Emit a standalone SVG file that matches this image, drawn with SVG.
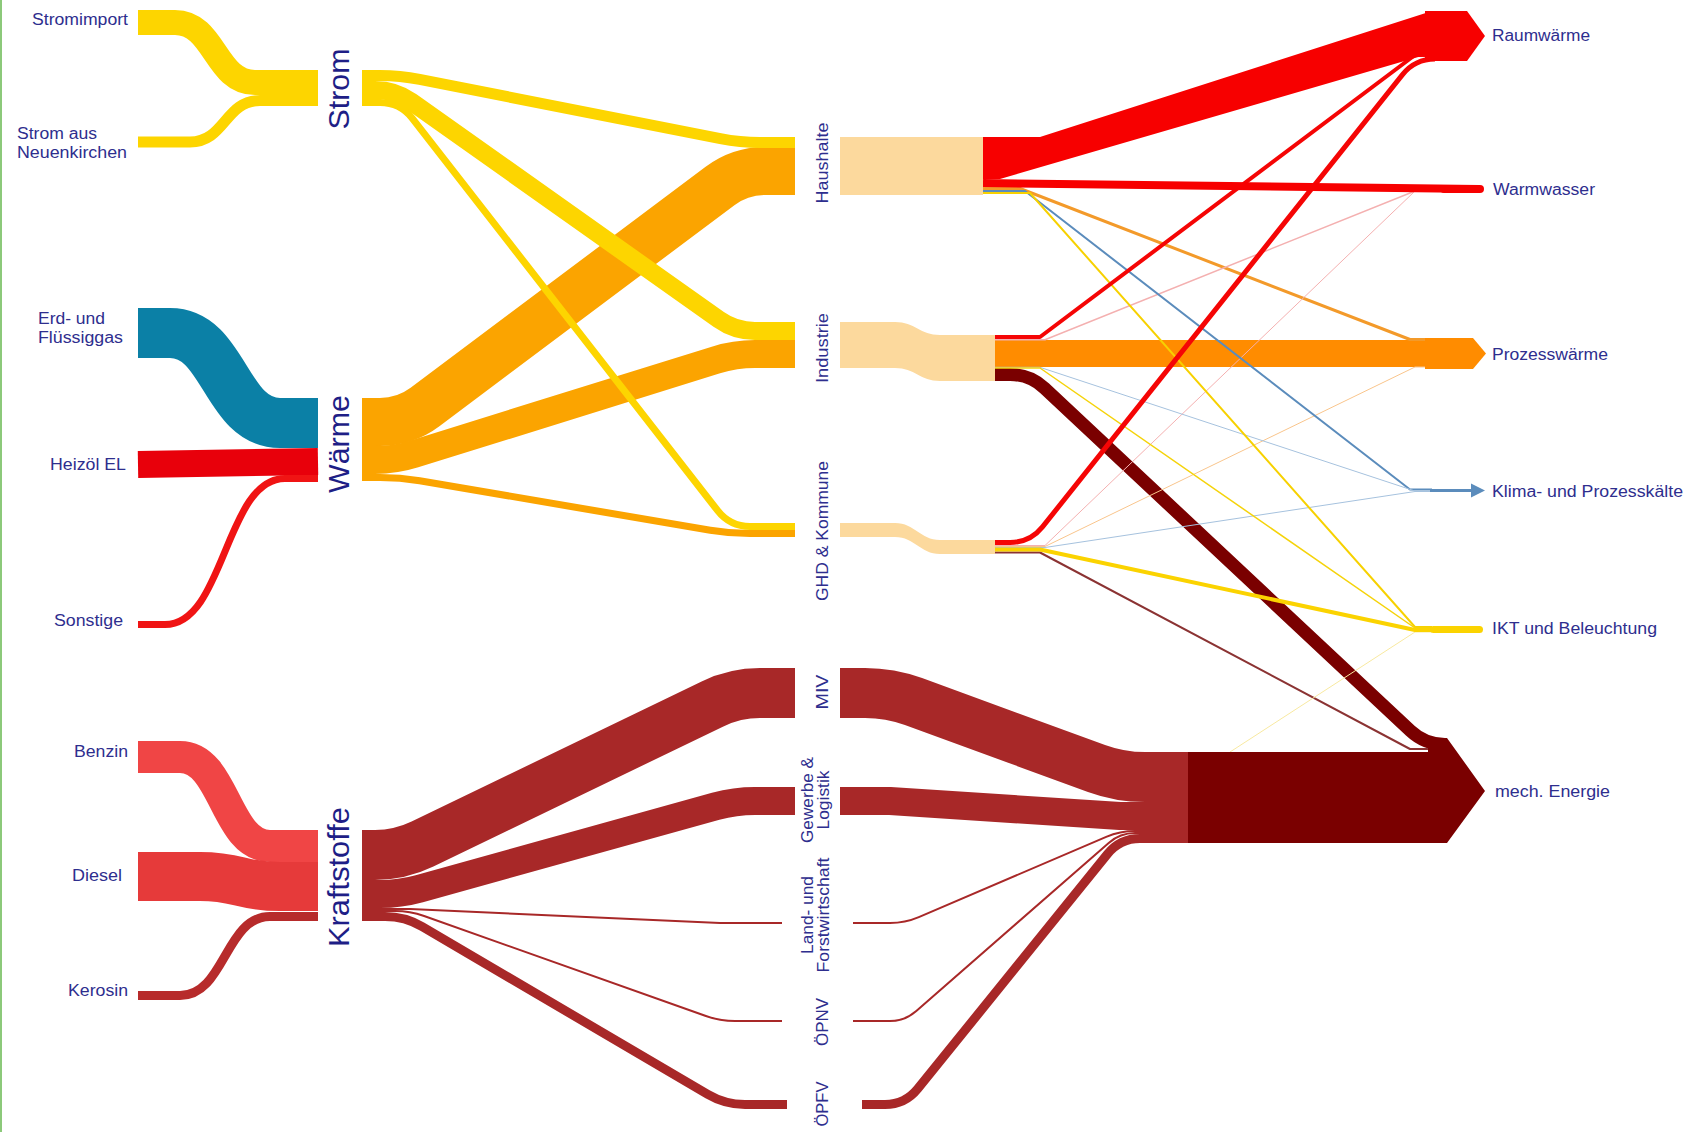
<svg xmlns="http://www.w3.org/2000/svg" width="1693" height="1132" viewBox="0 0 1693 1132">
<style>
text{font-family:"Liberation Sans",Arial,sans-serif;fill:#2e2e8e}
.s{font-size:16px}
.m{font-size:17px;text-anchor:middle}
.b{font-size:30px;text-anchor:middle;fill:#1e1e86}
.lk{fill:none;stroke-linejoin:round}
.st{stroke:#fdd500}
.wa{stroke:#fba400}
.kr{stroke:#a82828}
.rd{stroke:#f50505}
.box{fill:#fcd99d}
</style>
<rect width="1693" height="1132" fill="#ffffff"/>
<rect x="0" y="0" width="2" height="1132" fill="#8cc97a"/>

<g id="connectors">
  <!-- sources to carriers -->
  <path class="lk st" stroke-width="25" d="M138,22.5 H175 C215,22.5 215,82.5 255,82.5 H318"/>
  <path class="lk st" stroke-width="11" d="M138,142 H190 C225,142 225,100.5 260,100.5 H318"/>
  <path class="lk" stroke="#0b80a6" stroke-width="50" d="M138,333 H170 C225,333 225,423 280,423 H318"/>
  <path class="lk" stroke="#e8000b" stroke-width="27" d="M138,464.5 L318,461.5"/>
  <path class="lk" stroke="#f01414" stroke-width="7" d="M138,624.5 H165 C225,624.5 225,478.5 285,478.5 H318"/>
  <path class="lk" stroke="#f04545" stroke-width="32" d="M138,757 H180 C225,757 225,846 270,846 H318"/>
  <path class="lk" stroke="#e63a3a" stroke-width="49" d="M138,876.5 H200 C240,876.5 240,886.5 280,886.5 H318"/>
  <path class="lk" stroke="#b72b2b" stroke-width="9" d="M138,995.5 H180 C225,995.5 225,916.5 270,916.5 H318"/>

  <!-- Waerme to sectors -->
  <path class="lk wa" stroke-width="48" d="M362,422 H380 Q405,422 425,407 L720,186 Q740,171 765,171 H795"/>
  <path class="lk wa" stroke-width="28" d="M362,460 H375 Q395,460 414.1,454 L715.9,360 Q735,354 755,354 H795"/>
  <path class="lk wa" stroke-width="7" d="M362,477.5 H380 Q400,477.5 419.7,480.8 L710.3,530.2 Q730,533.5 750,533.5 H795"/>
  <!-- Strom to sectors -->
  <path class="lk st" stroke-width="11" d="M362,75.5 H380 Q400,75.5 419.6,79.4 L720.4,138.6 Q740,142.5 760,142.5 H795"/>
  <path class="lk st" stroke-width="18" d="M362,90 H375 Q395,90 411.3,101.6 L718.7,319.4 Q735,331 755,331 H795"/>
  <path class="lk st" stroke-width="7" d="M362,102.5 H380 Q400,102.5 412.3,118.3 L717.7,510.7 Q730,526.5 750,526.5 H795"/>

  <!-- Kraftstoffe to traffic sectors -->
  <path class="lk kr" stroke-width="50" d="M362,855 H375 Q400,855 422.5,844.1 L712.5,703.9 Q735,693 760,693 H795"/>
  <path class="lk kr" stroke-width="28" d="M362,894 H380 Q400,894 419.3,888.7 L715.7,806.3 Q735,801 755,801 H795"/>
  <path class="lk kr" stroke-width="2" d="M362,909 H410 L720,923 H782"/>
  <path class="lk kr" stroke-width="2" d="M362,911 H395 Q410,911 424.1,916 L705.9,1016 Q720,1021 735,1021 H782"/>
  <path class="lk kr" stroke-width="9" d="M362,916.5 H385 Q405,916.5 422.2,926.6 L707.8,1094.4 Q725,1104.5 745,1104.5 H787"/>

  <!-- traffic sectors to mech. Energie -->
  <path class="lk kr" stroke-width="50" d="M840,693 H865 Q890,693 913.5,701.6 L1096.5,768.4 Q1120,777 1145,777 H1190"/>
  <path class="lk kr" stroke-width="28" d="M840,801 H890 L1120,816 H1190"/>
  <path class="lk kr" stroke-width="2" d="M853,923 H890 Q905,923 918.8,917.1 L1106.2,836.9 Q1120,831 1135,831 H1190"/>
  <path class="lk kr" stroke-width="2" d="M853,1021 H890 Q905,1021 916.3,1011.1 L1108.7,842.9 Q1120,833 1135,833 H1190"/>
  <path class="lk kr" stroke-width="9" d="M862,1104.5 H885 Q905,1104.5 917.6,1088.9 L1107.4,854.1 Q1120,838.5 1140,838.5 H1190"/>

  <!-- sectors to uses -->
  <path class="lk" stroke="#7a0000" stroke-width="13" d="M995,374.5 H1010 Q1030,374.5 1044.6,388.2 L1410.4,730.8 Q1425,744.5 1445,744.5"/>
  <path class="lk" stroke="#8b3333" stroke-width="2" d="M995,552.5 H1040 L1410,749 H1430"/>
  <path class="lk" stroke="#ff8c00" stroke-width="27" d="M995,353.5 H1432"/>
  <path class="lk" stroke="#f39a2a" stroke-width="3" d="M983,188.5 H1020 L1410,339.5 H1432"/>
  <path class="lk" stroke="#f9c58c" stroke-width="1" d="M995,546.5 H1045 L1415,367 H1432"/>
  <path class="lk" stroke="#f4b0b0" stroke-width="1.5" d="M995,339.7 H1045 L1415,191 H1432"/>
  <path class="lk" stroke="#f4b0b0" stroke-width="1" d="M995,545.5 H1045 L1415,191 H1432"/>
  <path class="lk" stroke="#5b8cbc" stroke-width="2" d="M983,191 H1025 L1410,489.5 H1432"/>
  <path class="lk" stroke="#a6c2de" stroke-width="1" d="M995,367.3 H1040 L1415,491 H1432"/>
  <path class="lk" stroke="#a6c2de" stroke-width="1" d="M995,547.5 H1045 L1415,491.5 H1432"/>
  <path class="lk" stroke="#f8e9a0" stroke-width="1" d="M1230,752 L1415,632 H1432"/>
  <path class="lk" stroke="#f7d100" stroke-width="2" d="M983,193 H1030 L1415,627 H1432"/>
  <path class="lk" stroke="#f5d30a" stroke-width="1.5" d="M995,368 H1040 L1415,628 H1432"/>
  <path class="lk" stroke="#fbd300" stroke-width="4" d="M995,549.5 H1040 L1415,630 H1432"/>
  <path class="lk rd" stroke-width="4" d="M995,337 H1040 L1415,55 H1432"/>
  <path class="lk rd" stroke-width="5" d="M995,542.5 H1010 Q1030,542.5 1042.5,526.9 L1402.5,74.6 Q1415,59 1435,59"/>
  <path fill="#f70000" d="M983,137 H1040 L1432,11 V53 L1000,179 H983 Z"/>
  <path class="lk" stroke="#f70000" stroke-width="8" d="M983,183 L1479,189"/>
</g>

<g id="node-stromimport"><text class="s" x="32" y="25" textLength="96" lengthAdjust="spacingAndGlyphs">Stromimport</text></g>
<g id="node-neuenkirchen"><text class="s" x="17" y="139" textLength="80" lengthAdjust="spacingAndGlyphs">Strom aus</text><text class="s" x="17" y="158" textLength="110" lengthAdjust="spacingAndGlyphs">Neuenkirchen</text></g>
<g id="node-gas"><text class="s" x="38" y="324" textLength="67" lengthAdjust="spacingAndGlyphs">Erd- und</text><text class="s" x="38" y="343" textLength="85" lengthAdjust="spacingAndGlyphs">Flüssiggas</text></g>
<g id="node-heizoel"><text class="s" x="50" y="470" textLength="76" lengthAdjust="spacingAndGlyphs">Heizöl EL</text></g>
<g id="node-sonstige"><text class="s" x="54" y="626" textLength="69" lengthAdjust="spacingAndGlyphs">Sonstige</text></g>
<g id="node-benzin"><text class="s" x="74" y="757" textLength="54" lengthAdjust="spacingAndGlyphs">Benzin</text></g>
<g id="node-diesel"><text class="s" x="72" y="881" textLength="50" lengthAdjust="spacingAndGlyphs">Diesel</text></g>
<g id="node-kerosin"><text class="s" x="68" y="996" textLength="60" lengthAdjust="spacingAndGlyphs">Kerosin</text></g>

<g id="node-strom"><text class="b" transform="translate(349,89) rotate(-90)" textLength="81" lengthAdjust="spacingAndGlyphs">Strom</text></g>
<g id="node-waerme"><text class="b" transform="translate(349,444) rotate(-90)" textLength="98" lengthAdjust="spacingAndGlyphs">Wärme</text></g>
<g id="node-kraftstoffe"><text class="b" transform="translate(349,877) rotate(-90)" textLength="140" lengthAdjust="spacingAndGlyphs">Kraftstoffe</text></g>

<g id="node-haushalte">
  <rect class="box" x="840" y="137" width="143" height="58"/>
  <text class="m" transform="translate(828,163) rotate(-90)" textLength="81" lengthAdjust="spacingAndGlyphs">Haushalte</text>
</g>
<g id="node-industrie">
  <path class="box" d="M840,322 H895 C915,322 920,335 940,335 H995 V381 H940 C920,381 915,368 895,368 H840 Z"/>
  <text class="m" transform="translate(828,348) rotate(-90)" textLength="70" lengthAdjust="spacingAndGlyphs">Industrie</text>
</g>
<g id="node-ghd">
  <path class="box" d="M840,523 H895 C915,523 920,540 940,540 H995 V554 H940 C920,554 915,537 895,537 H840 Z"/>
  <text class="m" transform="translate(828,531) rotate(-90)" textLength="140" lengthAdjust="spacingAndGlyphs">GHD &amp; Kommune</text>
</g>
<g id="node-miv"><text class="m" transform="translate(828,692) rotate(-90)" textLength="35" lengthAdjust="spacingAndGlyphs">MIV</text></g>
<g id="node-gewerbe">
  <text class="m" transform="translate(813,800) rotate(-90)" textLength="86" lengthAdjust="spacingAndGlyphs">Gewerbe &amp;</text>
  <text class="m" transform="translate(829,800) rotate(-90)" textLength="59" lengthAdjust="spacingAndGlyphs">Logistik</text>
</g>
<g id="node-land">
  <text class="m" transform="translate(813,915) rotate(-90)" textLength="78" lengthAdjust="spacingAndGlyphs">Land- und</text>
  <text class="m" transform="translate(829,915) rotate(-90)" textLength="115" lengthAdjust="spacingAndGlyphs">Forstwirtschaft</text>
</g>
<g id="node-oepnv"><text class="m" transform="translate(828,1022) rotate(-90)" textLength="48" lengthAdjust="spacingAndGlyphs">ÖPNV</text></g>
<g id="node-oepfv"><text class="m" transform="translate(828,1104) rotate(-90)" textLength="45" lengthAdjust="spacingAndGlyphs">ÖPFV</text></g>

<g id="node-raumwaerme">
  <polygon fill="#f70000" points="1425,11 1467,11 1485,36 1467,61 1425,61"/>
  <text class="s" x="1492" y="41" textLength="98" lengthAdjust="spacingAndGlyphs">Raumwärme</text>
</g>
<g id="node-warmwasser">
  <rect x="1440" y="185" width="44" height="8" rx="4" fill="#f70000"/>
  <text class="s" x="1493" y="195" textLength="102" lengthAdjust="spacingAndGlyphs">Warmwasser</text>
</g>
<g id="node-prozesswaerme">
  <polygon fill="#ff8c00" points="1425,338 1473,338 1486,353.5 1473,369 1425,369"/>
  <text class="s" x="1492" y="360" textLength="116" lengthAdjust="spacingAndGlyphs">Prozesswärme</text>
</g>
<g id="node-klima">
  <path d="M1430,490.5 H1474" stroke="#5b8cbc" stroke-width="3" fill="none"/>
  <polygon fill="#5b8cbc" points="1471,483.5 1485,490.5 1471,497.5"/>
  <text class="s" x="1492" y="497" textLength="191" lengthAdjust="spacingAndGlyphs">Klima- und Prozesskälte</text>
</g>
<g id="node-ikt">
  <rect x="1430" y="626" width="53" height="7" rx="3.5" fill="#fbd300"/>
  <text class="s" x="1492" y="634" textLength="165" lengthAdjust="spacingAndGlyphs">IKT und Beleuchtung</text>
</g>
<g id="node-mech">
  <polygon fill="#7a0000" points="1188,752 1428,752 1428,738 1447,738 1485,791 1447,843 1188,843"/>
  <text class="s" x="1495" y="797" textLength="115" lengthAdjust="spacingAndGlyphs">mech. Energie</text>
</g>
</svg>
